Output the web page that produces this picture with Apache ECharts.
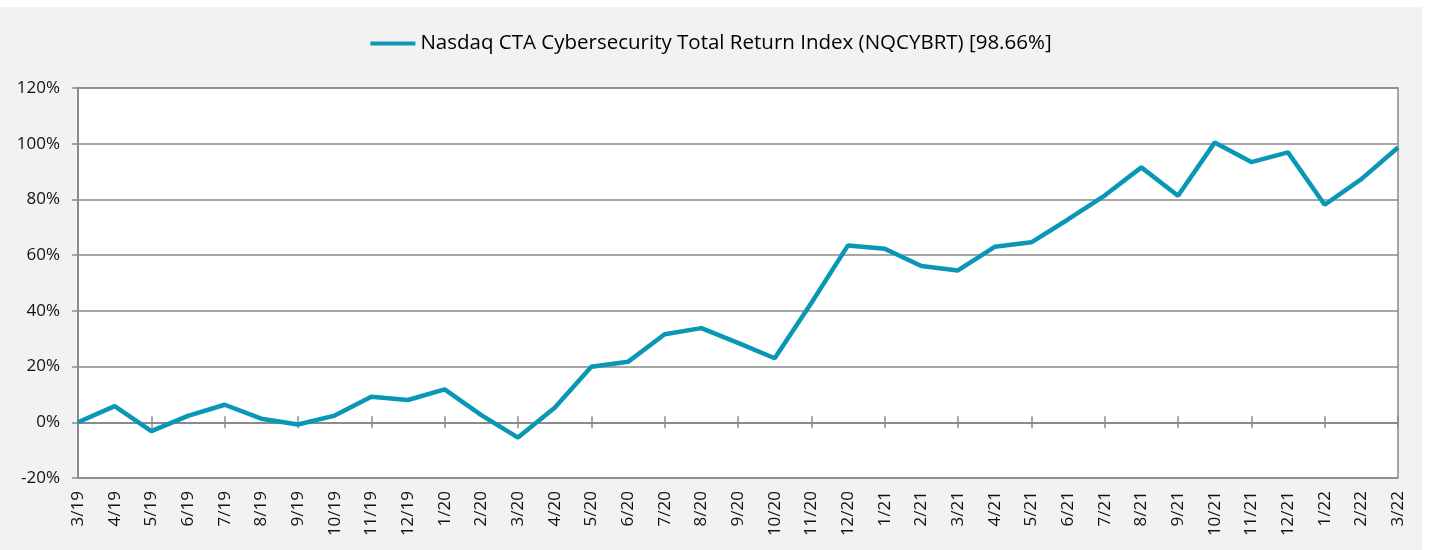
<!DOCTYPE html>
<html>
<head>
<meta charset="utf-8">
<script src="https://cdn.jsdelivr.net/npm/echarts@6/dist/echarts.min.js"></script>
<style>
  html, body { margin: 0; padding: 0; background: #fff; }
  #chart { position: absolute; left: 0; top: 7px; width: 1422px; height: 543px; background: #f2f2f2; }
</style>
</head>
<body>
<div id="chart"></div>
<script>
// month labels, 3/19 .. 3/22
const months = ['3/19', '4/19', '5/19', '6/19', '7/19', '8/19', '9/19', '10/19', '11/19', '12/19',
  '1/20', '2/20', '3/20', '4/20', '5/20', '6/20', '7/20', '8/20', '9/20', '10/20', '11/20', '12/20',
  '1/21', '2/21', '3/21', '4/21', '5/21', '6/21', '7/21', '8/21', '9/21', '10/21', '11/21', '12/21',
  '1/22', '2/22', '3/22'];

// cumulative total return, %
const nqcybrt = [0, 5.8, -3.2, 2.3, 6.3, 1.3, -0.8, 2.4, 9.2, 8.0,
  11.8, 2.6, -5.5, 5.2, 19.9, 21.7, 31.6, 33.8, 28.5, 23.0, 42.8, 63.5,
  62.3, 56.1, 54.5, 63.0, 64.6, 72.8, 81.4, 91.5, 81.3, 100.4, 93.4, 96.9,
  78.1, 87.3, 98.66];

const seriesName = 'Nasdaq CTA Cybersecurity Total Return Index (NQCYBRT) [98.66%]';
const yTicks = { min: -20, max: 120, interval: 20 };

const lineColor = '#0897b4';
const axisGrey = '#8a8a8a';
const font = '"Open Sans", "Noto Sans", sans-serif';

const chart = echarts.init(document.getElementById('chart'));

// the zero line gets ticks on both sides, so two extra axes sit on it
const zeroAxis = (inside) => ({
  type: 'category',
  data: months,
  boundaryGap: false,
  position: 'bottom',
  axisLine: { show: true, onZero: true, onZeroAxisIndex: 0, lineStyle: { color: axisGrey, width: 2 } },
  axisTick: { show: true, inside: inside, length: 6, lineStyle: { color: axisGrey, width: 1.5 } },
  axisLabel: { show: false },
  splitLine: { show: false }
});

chart.setOption({
  animation: false,
  textStyle: { fontFamily: font },
  legend: {
    top: 21,
    left: 'center',
    icon: 'rect',
    itemWidth: 45,
    itemHeight: 4,
    textStyle: { fontSize: 20.5, color: '#000', fontFamily: font },
    data: [seriesName]
  },
  grid: {
    left: 78, right: 24, top: 81, bottom: 72,
    show: true,
    backgroundColor: '#fff',
    borderColor: axisGrey,
    borderWidth: 1.5
  },
  xAxis: [
    {
      type: 'category',
      data: months,
      boundaryGap: false,
      position: 'bottom',
      axisLine: { show: false, onZero: false },
      axisTick: { show: false },
      axisLabel: { rotate: 90, margin: 13, fontSize: 17, color: '#111', interval: 0 }
    },
    zeroAxis(true),
    zeroAxis(false)
  ],
  yAxis: {
    type: 'value',
    min: yTicks.min,
    max: yTicks.max,
    interval: yTicks.interval,
    axisLine: { show: true, lineStyle: { color: axisGrey, width: 2 } },
    axisTick: { show: true, length: 6, lineStyle: { color: axisGrey, width: 1.5 } },
    axisLabel: { fontSize: 17, color: '#111', margin: 18, formatter: '{value}%' },
    splitLine: { show: true, lineStyle: { color: axisGrey, width: 1.5 } }
  },
  series: [
    {
      name: seriesName,
      type: 'line',
      xAxisIndex: 0,
      data: nqcybrt,
      symbol: 'none',
      lineStyle: { color: lineColor, width: 4.5 },
      itemStyle: { color: lineColor }
    }
  ]
});
</script>
</body>
</html>
